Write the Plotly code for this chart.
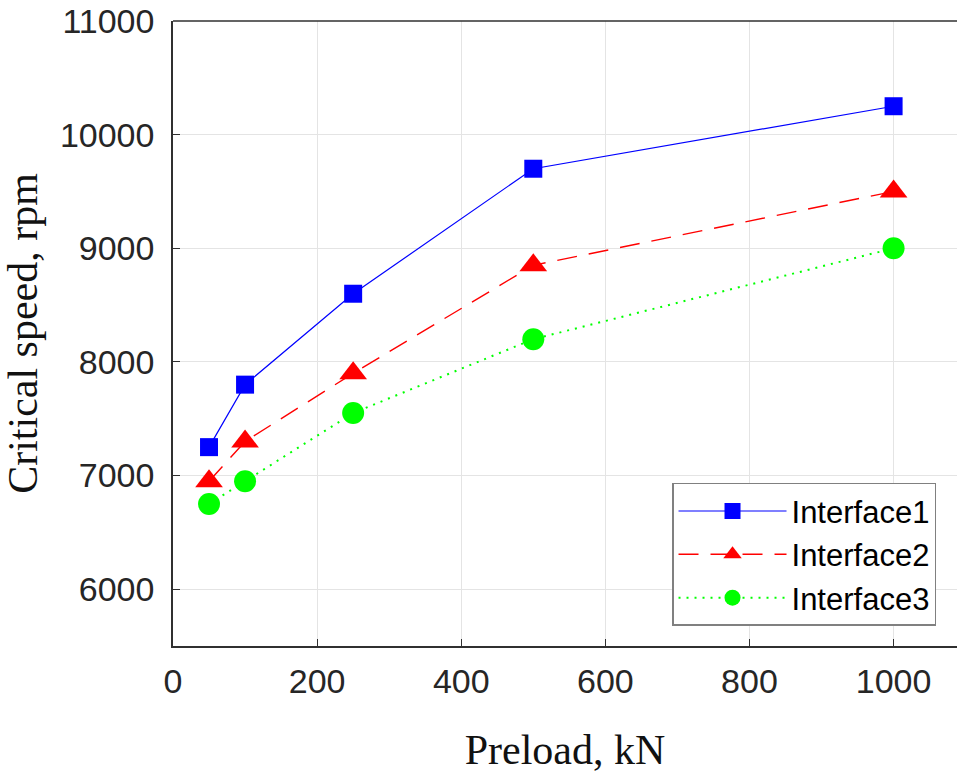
import plotly.graph_objects as go

preload = [50, 100, 250, 500, 1000]
interface1 = [7250, 7800, 8600, 9700, 10250]
interface2 = [6950, 7300, 7900, 8850, 9500]
interface3 = [6750, 6950, 7550, 8200, 9000]
series_names = ["Interface1", "Interface2", "Interface3"]
x_ticks = [0, 200, 400, 600, 800, 1000]
y_ticks = [6000, 7000, 8000, 9000, 10000, 11000]

styles = [
    dict(color="#0000ff", dash="solid", width=1.2, symbol="square", size=18),
    dict(color="#ff0000", dash="20px,12px", width=1.4, symbol="triangle-up", size=24),
    dict(color="#00ff00", dash="2px,6px", width=2, symbol="circle", size=22),
]

fig = go.Figure()
for name, ys, st in zip(series_names, [interface1, interface2, interface3], styles):
    fig.add_trace(go.Scatter(
        x=preload, y=ys, name=name, mode="lines+markers",
        line=dict(color=st["color"], dash=st["dash"], width=st["width"]),
        marker=dict(symbol=st["symbol"], size=st["size"], color=st["color"],
                    line=dict(width=0)),
    ))

tick_font = dict(family="Liberation Sans, Arial", size=34, color="#262626")
title_font = dict(family="Liberation Serif, Times New Roman", size=42, color="#111111")
axis_common = dict(
    showgrid=True, gridcolor="#e4e4e4", gridwidth=1,
    showline=True, linecolor="#303030", linewidth=1.5,
    ticks="inside", ticklen=7, tickcolor="#303030",
    tickfont=tick_font, zeroline=False,
)

fig.update_layout(
    width=957, height=773,
    margin=dict(l=173, r=0, t=21, b=127),
    paper_bgcolor="white", plot_bgcolor="white",
    xaxis=dict(range=[0, 1088], tickvals=x_ticks, ticktext=[str(v) for v in x_ticks],
               ticklabelstandoff=4, **axis_common,
               title=dict(text="Preload, kN", standoff=36, font=title_font)),
    yaxis=dict(range=[5500, 11000], tickvals=y_ticks, ticktext=[str(v) for v in y_ticks],
               ticklabelstandoff=10, **axis_common,
               title=dict(text="Critical speed, rpm", standoff=10, font=title_font)),
    legend=dict(
        x=0.6365, y=0.261, xanchor="left", yanchor="top",
        bgcolor="white", bordercolor="#808080", borderwidth=1.5,
        font=dict(family="Liberation Sans, Arial", size=31, color="black"),
        itemwidth=108, tracegroupgap=0,
    ),
    showlegend=True,
)

# top border of the axes box
fig.add_shape(type="line", xref="paper", yref="paper", x0=0, x1=1, y0=1, y1=1,
              line=dict(color="#303030", width=1.5))

fig.write_html("out.html")
